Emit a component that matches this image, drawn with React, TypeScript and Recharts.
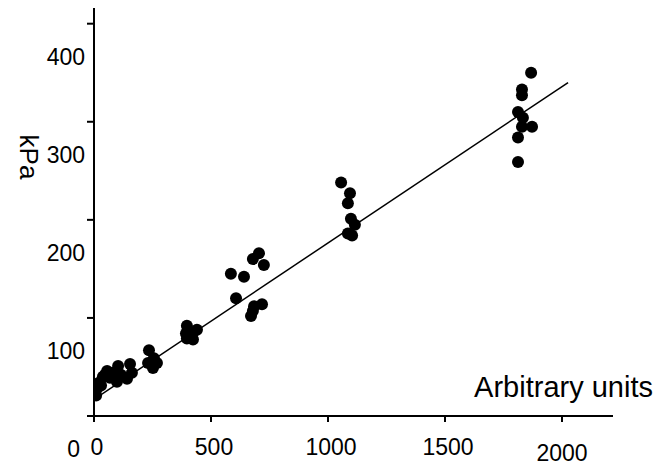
import { ScatterChart, Scatter, XAxis, YAxis } from 'recharts'

const unitTicks = [0, 500, 1000, 1500, 2000]
const kpaTicks = [0, 100, 200, 300, 400]

// measurements (arbitrary units vs kPa)
const obsUnits = [
  9, 13, 21, 30, 38, 47, 56, 68, 81, 98, 103, 115, 141, 154, 162,
  231, 235, 252, 256, 269,
  393, 397, 397, 410, 423, 423, 440,
  585, 607, 641, 671, 679, 679, 684, 705, 718, 726,
  1056, 1085, 1085, 1094, 1098, 1103, 1115,
  1812, 1812, 1812, 1829, 1829, 1829, 1833, 1868, 1872,
]
const obsKpa = [
  21, 28, 34, 31, 40, 42, 46, 39, 44, 35, 51, 42, 38, 53, 44,
  54, 67, 49, 59, 54,
  84, 92, 79, 81, 85, 78, 88,
  145, 120, 142, 102, 160, 107, 112, 166, 114, 154,
  238, 217, 186, 227, 201, 184, 195,
  310, 284, 259, 333, 327, 295, 304, 350, 295,
]

// fitted line end points
const fitUnits = [0, 2026]
const fitKpa = [17, 340]

const font = '"Liberation Sans", Arial, sans-serif'

const points = obsUnits.map((u, i) => ({ x: u, y: obsKpa[i] }))
const fit = fitUnits.map((u, i) => ({ x: u, y: fitKpa[i] }))

function XTick(props: any) {
  const { x, y, payload, index } = props
  const last = index === unitTicks.length - 1
  return (
    <text
      x={x + (last ? 0 : 3)}
      y={y + 31 + (last ? 6 : 0)}
      textAnchor="middle"
      fontSize={23}
      fontFamily={font}
      fill="#000"
    >
      {payload.value}
    </text>
  )
}

function YTick(props: any) {
  const { x, y, payload, index } = props
  return (
    <text x={x - (index === 0 ? 5 : 0)} y={y + 41} textAnchor="end" fontSize={23} fontFamily={font} fill="#000">
      {payload.value}
    </text>
  )
}

export default function App() {
  return (
    <div style={{ position: 'absolute', left: 0, top: 0, background: '#fff' }}>
      <ScatterChart width={658} height={466} margin={{ top: 8, right: 45, left: 34, bottom: 10 }}>
        <XAxis
          type="number"
          dataKey="x"
          domain={[0, 2218]}
          ticks={unitTicks}
          allowDataOverflow
          height={40}
          tickSize={6}
          tickMargin={2}
          axisLine={{ stroke: '#000', strokeWidth: 2 }}
          tickLine={{ stroke: '#000', strokeWidth: 2 }}
          tick={(p: any) => <XTick {...p} />}
          label={{
            content: ({ viewBox }: any) => (
              <text
                x={viewBox.x + viewBox.width + 40}
                y={viewBox.y - 19}
                textAnchor="end"
                fontSize={29}
                fontFamily={font}
                fill="#000"
              >
                Arbitrary units
              </text>
            ),
          }}
        />
        <YAxis
          type="number"
          dataKey="y"
          domain={[0, 416]}
          ticks={kpaTicks}
          allowDataOverflow
          width={60}
          tickSize={7}
          tickMargin={2}
          axisLine={{ stroke: '#000', strokeWidth: 2 }}
          tickLine={{ stroke: '#000', strokeWidth: 2 }}
          tick={(p: any) => <YTick {...p} />}
          label={{
            content: ({ viewBox }: any) => {
              const cx = viewBox.x - 5
              const cy = viewBox.y + 149
              return (
                <text
                  x={cx}
                  y={cy}
                  transform={`rotate(90 ${cx} ${cy})`}
                  textAnchor="middle"
                  dominantBaseline="central"
                  fontSize={26}
                  fontFamily={font}
                  fill="#000"
                >
                  kPa
                </text>
              )
            },
          }}
        />
        <Scatter
          data={fit}
          line={{ stroke: '#000', strokeWidth: 1.5 }}
          shape={() => <g />}
          isAnimationActive={false}
        />
        <Scatter
          data={points}
          fill="#000"
          shape={(p: any) => <circle cx={p.cx} cy={p.cy} r={6} fill="#000" />}
          isAnimationActive={false}
        />
      </ScatterChart>
    </div>
  )
}
